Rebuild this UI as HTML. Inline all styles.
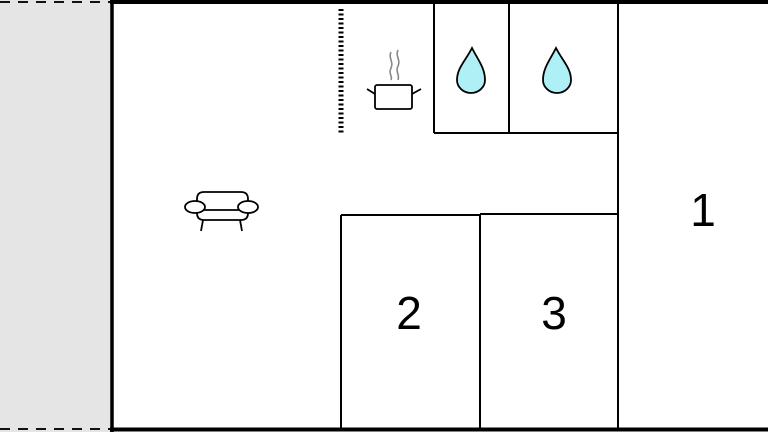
<!DOCTYPE html>
<html><head><style>
html,body{margin:0;padding:0;background:#fff}
</style></head><body>
<svg width="768" height="432" viewBox="0 0 768 432" xmlns="http://www.w3.org/2000/svg" style="display:block">
<rect x="0" y="0" width="112" height="432" fill="#e5e5e5"/>
<line x1="0" y1="2" x2="112" y2="2" stroke="#111" stroke-width="2" stroke-dasharray="10,8"/>
<line x1="0" y1="429" x2="112" y2="429" stroke="#111" stroke-width="2" stroke-dasharray="10,8"/>
<line x1="112" y1="0" x2="112" y2="432" stroke="#000" stroke-width="3.5"/>
<line x1="110" y1="2" x2="768" y2="2" stroke="#000" stroke-width="4"/>
<line x1="110" y1="429.5" x2="768" y2="429.5" stroke="#000" stroke-width="4"/>
<line x1="341" y1="9" x2="341" y2="134" stroke="#000" stroke-width="5" stroke-dasharray="2,2.5"/>
<g stroke="#000" stroke-width="2" fill="none">
<line x1="434" y1="2" x2="434" y2="133"/>
<line x1="509" y1="2" x2="509" y2="133"/>
<line x1="618" y1="2" x2="618" y2="430"/>
<line x1="434" y1="133" x2="618" y2="133"/>
<line x1="341" y1="215" x2="480" y2="215"/>
<line x1="480" y1="214" x2="618" y2="214"/>
<line x1="341" y1="215" x2="341" y2="430"/>
<line x1="480" y1="214" x2="480" y2="430"/>
</g>
<g stroke="#000" stroke-width="1.8" fill="#aef0f5">
<path d="M472 48 C466 60 457 68 457 80 A14 13 0 0 0 485 80 C485 68 478 60 472 48Z"/>
<path d="M556 48 C550 60 543 68 543 80 A14 13 0 0 0 571 80 C571 68 562 60 556 48Z"/>
</g>
<g stroke="#000" stroke-width="1.8" fill="none">
<rect x="375" y="85" width="37" height="24" rx="2" fill="#fff"/>
<line x1="375" y1="94" x2="367" y2="89"/>
<line x1="412" y1="94" x2="421" y2="89"/>
</g>
<g stroke="#888" stroke-width="1.6" fill="none">
<path d="M391 52 C388 58 394 62 391 68 C388 74 393 76 391 80"/>
<path d="M398 50 C395 56 401 60 398 66 C395 72 400 74 398 80"/>
</g>
<g stroke="#000" stroke-width="1.8" fill="#fff">
<path d="M197 207 V199 Q197 192 204 192 H241 Q248 192 248 199 V207"/>
<path d="M197 207 V213 Q197 220 204 220 H241 Q248 220 248 213 V207"/>
<line x1="203" y1="220" x2="201" y2="231"/>
<line x1="240" y1="220" x2="242" y2="231"/>
<line x1="203" y1="210" x2="241" y2="210"/>
<ellipse cx="195" cy="207" rx="10" ry="6"/>
<ellipse cx="248" cy="207" rx="10" ry="6"/>
</g>
<g font-family="Liberation Sans, sans-serif" font-size="46" fill="#000" text-anchor="middle">
<text x="409" y="329">2</text>
<text x="554" y="329">3</text>
<text x="703" y="226">1</text>
</g>
</svg>
</body></html>
